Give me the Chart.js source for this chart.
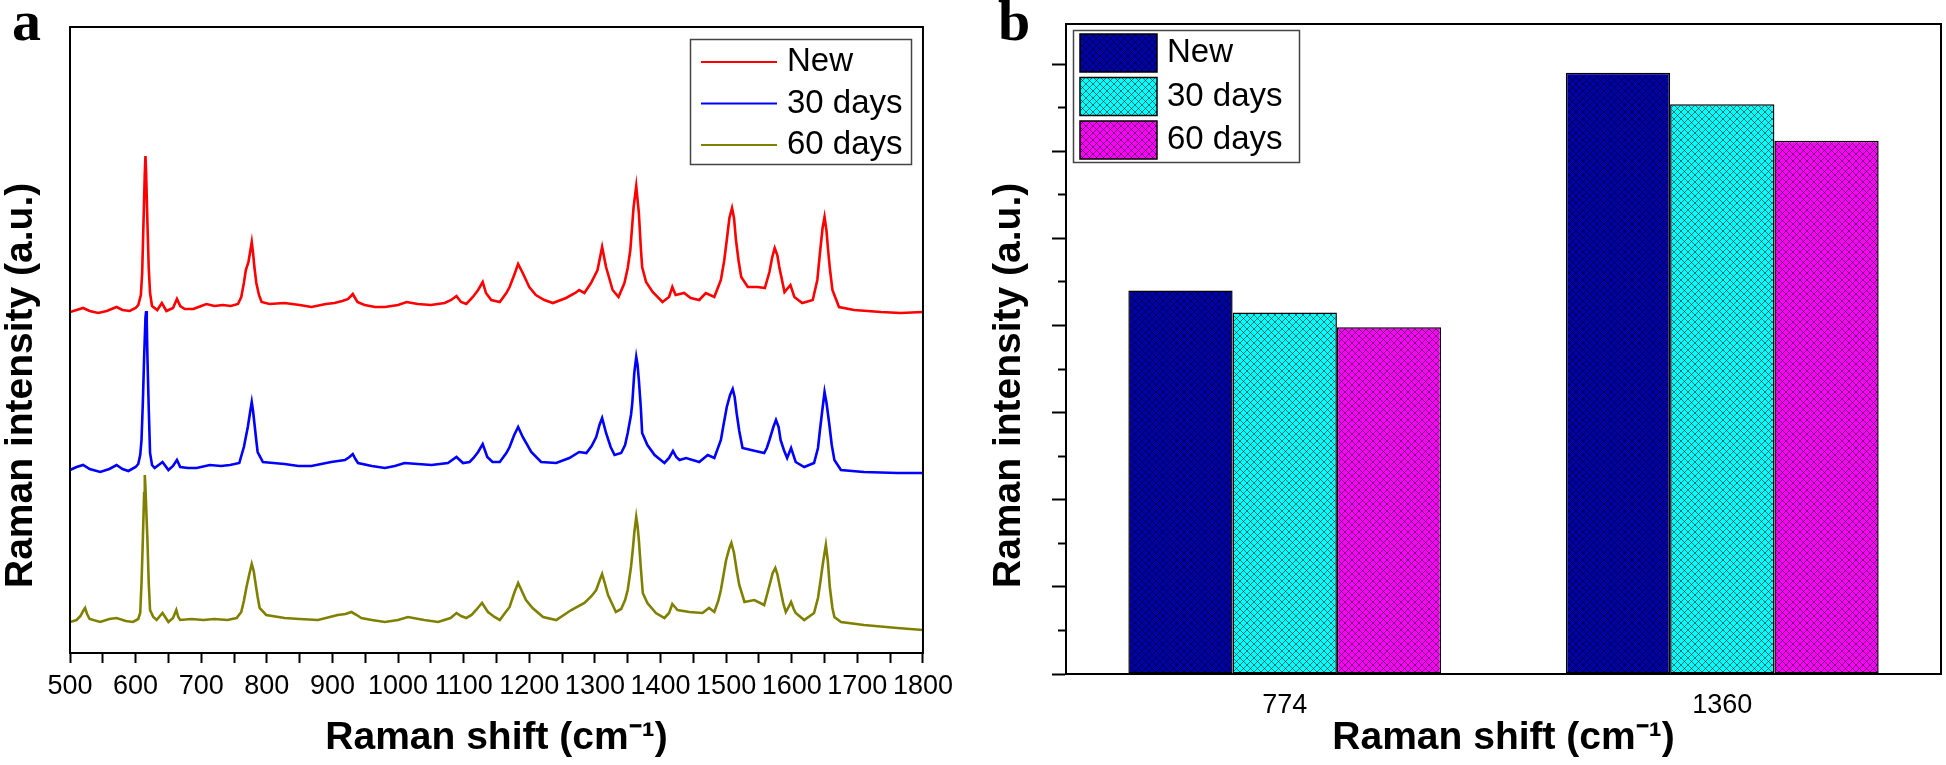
<!DOCTYPE html>
<html><head><meta charset="utf-8">
<script src="https://cdn.jsdelivr.net/npm/chart.js@4.4.1/dist/chart.umd.min.js"></script>
<style>
html,body{margin:0;padding:0;background:#fff;}
#wrapA{position:absolute;left:0;top:0;width:960px;height:765px;}
#wrapB{position:absolute;left:960px;top:0;width:986px;height:765px;}
</style></head><body>
<div id="wrapA"><canvas id="cA" width="960" height="765"></canvas></div>
<div id="wrapB"><canvas id="cB" width="986" height="765"></canvas></div>
<script>
// ---------- data ----------
const seriesNames = ['New', '30 days', '60 days'];
const lineColors = ['#ff0000', '#0000ff', '#808000'];

const spectrumNew = [[500,341],[510,343],[520,345],[530,342],[543,340],[556,342],[571,346],[580,343],[591,342],[600,345],[604,348],[608,358],[610,380],[612,430],[614,480],[615,497],[616,480],[618,430],[620,385],[622,360],[625,347],[633,343],[640,350],[647,342],[657,345],[663,354],[668,347],[675,344],[688,344],[700,347],[708,349],[720,347],[733,348],[745,347],[756,349],[761,356],[765,370],[768,383],[772,391],[775,403],[777,411],[779,400],[781,386],[784,370],[788,358],[792,351],[804,349],[827,350],[850,348],[868,346],[890,349],[903,350],[915,352],[924,354],[931,359],[938,351],[949,348],[965,346],[980,346],[1000,348],[1013,351],[1030,349],[1050,348],[1071,350],[1081,353],[1089,357],[1096,351],[1104,349],[1114,356],[1122,363],[1129,371],[1134,360],[1142,353],[1155,351],[1165,360],[1170,366],[1177,378],[1183,389],[1190,380],[1200,366],[1210,358],[1223,353],[1236,350],[1256,355],[1270,360],[1276,363],[1284,360],[1294,370],[1304,383],[1311,406],[1317,386],[1327,363],[1336,356],[1345,370],[1350,385],[1354,403],[1359,446],[1363,467],[1367,440],[1370,405],[1372,386],[1378,371],[1388,361],[1403,351],[1413,356],[1418,366],[1423,358],[1436,360],[1446,355],[1459,353],[1469,360],[1482,356],[1492,373],[1497,392],[1501,413],[1505,435],[1509,445],[1512,435],[1515,413],[1519,392],[1523,376],[1533,366],[1548,366],[1559,365],[1566,381],[1570,395],[1574,405],[1578,398],[1581,386],[1589,361],[1598,368],[1604,356],[1616,350],[1632,353],[1639,373],[1643,400],[1647,425],[1650,436],[1653,422],[1655,406],[1658,385],[1662,363],[1672,346],[1695,343],[1736,341],[1766,340],[1800,341]];

const spectrum30 = [[500,183],[510,186],[520,188],[530,184],[546,181],[560,184],[571,188],[580,184],[589,182],[600,186],[604,189],[607,198],[609,213],[611,250],[613,296],[615,335],[616,342],[617,330],[618,296],[620,245],[622,200],[625,188],[629,185],[641,191],[650,183],[657,187],[663,193],[668,186],[680,185],[693,185],[713,188],[730,187],[744,188],[758,190],[765,206],[768,216],[771,226],[775,243],[777,251],[779,242],[781,230],[784,212],[786,201],[794,191],[810,190],[827,189],[848,187],[868,187],[898,191],[919,193],[926,196],[931,199],[935,194],[939,190],[960,187],[980,185],[995,187],[1010,190],[1030,189],[1051,188],[1076,190],[1089,196],[1099,190],[1109,191],[1115,195],[1122,201],[1129,209],[1136,196],[1144,191],[1155,191],[1165,200],[1170,206],[1177,218],[1183,226],[1190,216],[1203,201],[1218,191],[1241,190],[1261,195],[1276,201],[1287,200],[1295,207],[1302,216],[1307,228],[1311,235],[1317,220],[1324,206],[1330,198],[1340,200],[1346,208],[1350,220],[1355,238],[1357,250],[1360,280],[1363,296],[1365,288],[1367,273],[1370,245],[1372,220],[1380,208],[1391,198],[1406,190],[1413,195],[1419,202],[1424,196],[1429,193],[1439,195],[1459,191],[1472,198],[1482,195],[1492,213],[1496,228],[1501,246],[1506,258],[1510,264],[1513,256],[1516,240],[1520,222],[1525,205],[1538,203],[1558,200],[1562,205],[1566,213],[1572,226],[1576,233],[1580,226],[1583,213],[1588,203],[1593,195],[1599,205],[1606,191],[1619,186],[1634,190],[1640,205],[1643,223],[1647,245],[1650,261],[1653,250],[1657,230],[1661,208],[1665,193],[1675,183],[1710,181],[1761,180],[1800,180]];

const spectrum60 = [[500,31],[510,33],[516,37],[520,42],[523,45],[526,39],[530,34],[546,31],[560,34],[571,35],[585,32],[596,31],[604,34],[607,40],[609,70],[611,113],[613,160],[614,178],[615,165],[618,113],[620,70],[622,43],[627,36],[632,33],[641,40],[650,31],[657,35],[662,43],[665,36],[668,33],[685,34],[703,33],[720,34],[740,33],[754,35],[761,41],[765,52],[769,66],[773,78],[777,89],[780,82],[782,73],[786,56],[789,45],[799,38],[827,35],[850,34],[878,33],[908,38],[920,39],[929,41],[937,38],[944,35],[960,33],[980,31],[1000,33],[1015,36],[1040,33],[1061,31],[1080,35],[1089,40],[1096,37],[1104,35],[1112,38],[1119,43],[1124,47],[1128,50],[1132,46],[1137,41],[1147,36],[1155,33],[1163,40],[1170,46],[1177,60],[1183,70],[1190,60],[1195,53],[1205,45],[1221,36],[1241,33],[1264,43],[1284,50],[1295,57],[1302,63],[1308,74],[1311,79],[1315,70],[1320,58],[1332,41],[1340,44],[1346,53],[1350,63],[1355,86],[1358,105],[1360,120],[1363,136],[1365,127],[1367,113],[1370,85],[1373,60],[1380,50],[1393,40],[1406,35],[1413,40],[1418,49],[1422,46],[1426,43],[1444,41],[1464,40],[1474,45],[1482,41],[1488,52],[1492,63],[1496,78],[1500,93],[1505,105],[1508,110],[1512,100],[1516,83],[1520,68],[1528,51],[1543,53],[1558,48],[1563,60],[1567,70],[1571,80],[1575,85],[1578,79],[1582,66],[1587,50],[1591,41],[1596,47],[1599,51],[1603,44],[1606,40],[1619,33],[1634,40],[1640,55],[1644,73],[1648,92],[1652,108],[1655,92],[1658,66],[1662,45],[1665,36],[1675,31],[1710,28],[1761,25],[1800,23]];

const bandLabels = ['774', '1360'];
const barNew = [440, 690];
const bar30 = [415, 654];
const bar60 = [398, 612];
const barColors = ['#0000a8', '#00ffff', '#ff00ff'];

// ---------- styling helpers ----------
const SANS = '"Liberation Sans", Arial, Helvetica, sans-serif';
const SERIF = '"Liberation Serif", "Times New Roman", serif';
Chart.defaults.font.family = SANS;
Chart.defaults.color = '#000';

function hatch(color) {
  const s = 7, c = document.createElement('canvas');
  c.width = s; c.height = s;
  const g = c.getContext('2d');
  g.fillStyle = color; g.fillRect(0, 0, s, s);
  g.strokeStyle = 'rgba(0,0,0,0.6)'; g.lineWidth = 0.9;
  g.beginPath();
  for (const k of [-s, 0, s]) {
    g.moveTo(k, 0); g.lineTo(k + s, s);
    g.moveTo(k, s); g.lineTo(k + s, 0);
  }
  g.stroke();
  return g.createPattern(c, 'repeat');
}

const toXY = arr => arr.map(([x, y]) => ({x, y}));

// ---------- panel a ----------
const decorA = {
  id: 'decorA',
  afterDraw(chart) {
    const {ctx, chartArea: a} = chart;
    ctx.save();
    ctx.strokeStyle = '#000'; ctx.lineWidth = 2;
    ctx.strokeRect(a.left, a.top, a.right - a.left, a.bottom - a.top);
    ctx.strokeStyle = '#444'; ctx.lineWidth = 1.5;
    ctx.strokeRect(690.5, 39.5, 221, 125);
    ctx.font = '33px ' + SANS; ctx.fillStyle = '#000';
    ctx.textBaseline = 'middle'; ctx.textAlign = 'left';
    chart.data.datasets.forEach((ds, i) => {
      const y = 62 + i * 41.5;
      ctx.strokeStyle = ds.borderColor; ctx.lineWidth = 2;
      ctx.beginPath(); ctx.moveTo(701, y); ctx.lineTo(777, y); ctx.stroke();
      ctx.fillText(ds.label, 787, y);
    });
    ctx.font = 'bold 58px ' + SERIF; ctx.textBaseline = 'alphabetic';
    ctx.fillText('a', 12, 40);
    ctx.translate(32, 588); ctx.rotate(-Math.PI / 2);
    ctx.font = 'bold 39px ' + SANS;
    ctx.fillText('Raman intensity (a.u.)', 0, 0);
    ctx.restore();
  }
};

new Chart(document.getElementById('cA'), {
  type: 'line',
  data: {
    datasets: [spectrumNew, spectrum30, spectrum60].map((s, i) => ({
      label: seriesNames[i], data: toXY(s), borderColor: lineColors[i],
      borderWidth: 2.6, pointRadius: 0, tension: 0, fill: false
    }))
  },
  options: {
    responsive: false, animation: false, devicePixelRatio: 1,
    layout: {padding: {top: 27, right: 36, left: 0, bottom: 0}},
    plugins: {legend: {display: false}, tooltip: {enabled: false}},
    scales: {
      x: {
        type: 'linear', min: 500, max: 1800,
        ticks: {stepSize: 50, autoSkip: false, maxRotation: 0, padding: 7, font: {size: 27}, color: '#000',
                callback: v => (v % 100 === 0 ? String(v) : '')},
        grid: {display: true, drawOnChartArea: false, drawTicks: true, tickLength: 10, tickWidth: 2, color: '#000', tickColor: '#000'},
        border: {display: true, color: '#000', width: 2},
        title: {display: true, text: 'Raman shift (cm\u207B\u00B9)', font: {size: 39, weight: 'bold'}, color: '#000', padding: {top: 0, bottom: 3}},
        afterFit: s => { s.height = 112; }
      },
      y: {
        min: 0, max: 626,
        ticks: {display: false}, grid: {display: false},
        border: {display: true, color: '#000', width: 2},
        afterFit: s => { s.width = 70; }
      }
    }
  },
  plugins: [decorA]
});

// ---------- panel b ----------
const patterns = barColors.map(hatch);

const decorB = {
  id: 'decorB',
  afterDraw(chart) {
    const {ctx, chartArea: a} = chart;
    ctx.save();
    ctx.strokeStyle = '#000'; ctx.lineWidth = 2;
    ctx.strokeRect(a.left, a.top, a.right - a.left, a.bottom - a.top);
    ctx.strokeStyle = '#444'; ctx.lineWidth = 1.5;
    ctx.strokeRect(113.5, 30.5, 226, 132);
    ctx.font = '33px ' + SANS; ctx.textBaseline = 'middle'; ctx.textAlign = 'left';
    chart.data.datasets.forEach((ds, i) => {
      const y0 = 34 + i * 43.5;
      ctx.fillStyle = ds.backgroundColor;
      ctx.fillRect(120, y0, 77, 38);
      ctx.strokeStyle = '#000'; ctx.lineWidth = 1.5;
      ctx.strokeRect(120, y0, 77, 38);
      ctx.fillStyle = '#000';
      ctx.fillText(ds.label, 207, y0 + 19);
    });
    ctx.fillStyle = '#000';
    ctx.font = 'bold 58px ' + SERIF; ctx.textBaseline = 'alphabetic';
    ctx.fillText('b', 38, 40);
    ctx.translate(60, 588); ctx.rotate(-Math.PI / 2);
    ctx.font = 'bold 39px ' + SANS;
    ctx.fillText('Raman intensity (a.u.)', 0, 0);
    ctx.restore();
  }
};

new Chart(document.getElementById('cB'), {
  type: 'bar',
  data: {
    labels: bandLabels,
    datasets: [barNew, bar30, bar60].map((d, i) => ({
      label: seriesNames[i], data: d, yAxisID: 'y', xAxisID: 'x',
      backgroundColor: patterns[i], borderColor: '#000', borderWidth: 1.5, borderSkipped: false,
      categoryPercentage: 0.715, barPercentage: 1
    }))
  },
  options: {
    responsive: false, animation: false, devicePixelRatio: 1,
    layout: {padding: {top: 24, right: 5, left: 0, bottom: 0}},
    plugins: {legend: {display: false}, tooltip: {enabled: false}},
    scales: {
      x: {
        ticks: {padding: 15, font: {size: 27}, color: '#000'},
        grid: {display: false, drawTicks: false},
        border: {display: true, color: '#000', width: 2},
        title: {display: true, text: 'Raman shift (cm\u207B\u00B9)', font: {size: 39, weight: 'bold'}, color: '#000', padding: {top: 0, bottom: 3}},
        afterFit: s => { s.height = 91; }
      },
      y: {
        position: 'left', weight: 1, min: 0, max: 746,
        ticks: {display: false, stepSize: 100},
        grid: {display: true, drawOnChartArea: false, drawTicks: true, tickLength: 14, tickWidth: 2, tickColor: '#000', color: '#000'},
        border: {display: true, color: '#000', width: 2},
        afterBuildTicks: s => { s.ticks = s.ticks.filter(t => t.value % 100 === 0); },
        afterFit: s => { s.width = 106; }
      },
      yMinor: {
        position: 'left', weight: 0, min: 0, max: 746,
        ticks: {display: false, stepSize: 50},
        grid: {display: true, drawOnChartArea: false, drawTicks: true, tickLength: 8, tickWidth: 2, tickColor: '#000', color: '#000'},
        border: {display: false},
        afterBuildTicks: s => { s.ticks = s.ticks.filter(t => t.value % 100 === 50); },
        afterFit: s => { s.width = 0; }
      }
    }
  },
  plugins: [decorB]
});
</script>
</body></html>
